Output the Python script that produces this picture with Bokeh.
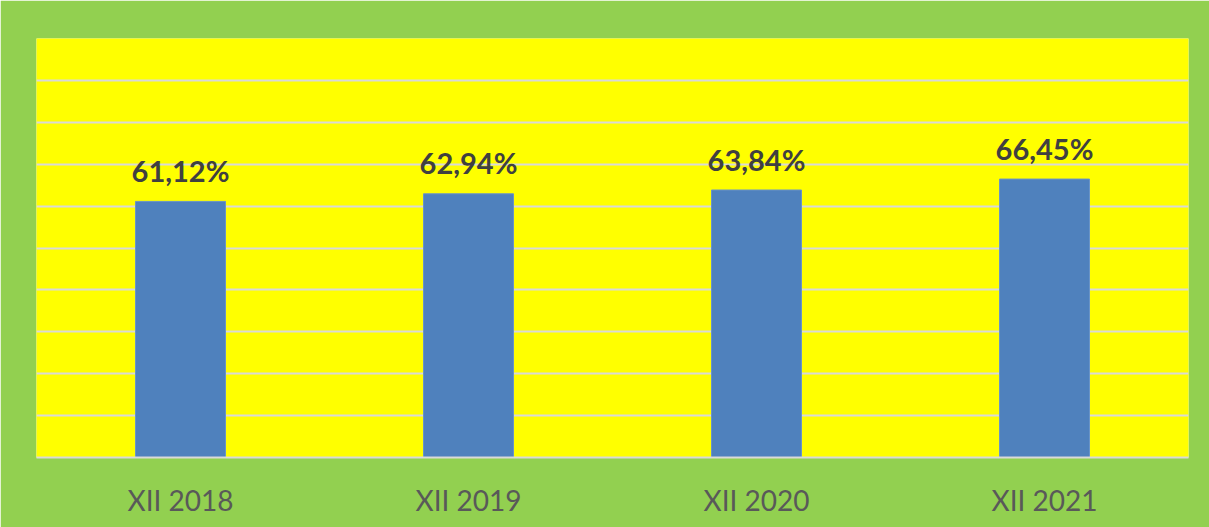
from bokeh.plotting import figure
from bokeh.models import ColumnDataSource, FixedTicker
from bokeh.core.properties import value
from bokeh.embed import file_html
from bokeh.resources import INLINE

categories = ["XII 2018", "XII 2019", "XII 2020", "XII 2021"]
values = [61.12, 62.94, 63.84, 66.45]
labels = [f"{v:.2f}".replace(".", ",") + "%" for v in values]

src = ColumnDataSource(data=dict(cat=categories, val=values, lab=labels))

p = figure(x_range=categories, y_range=(0, 100), width=1209, height=527,
           output_backend="svg", toolbar_location=None,
           min_border_left=36, min_border_right=21, min_border_top=38, min_border_bottom=70)
p.border_fill_color = "#92d050"
p.background_fill_color = "#ffff00"
p.outline_line_color = None

p.vbar(x="cat", top="val", width=0.3125, source=src, fill_color="#4f81bd", line_color="#6a94c6", line_width=1)
p.text(x="cat", y="val", text="lab", source=src, text_align="center", text_baseline="alphabetic",
       y_offset=-31, text_font=value("Lato"), text_font_style="bold", text_font_size="29px",
       text_color="#404040")

p.yaxis.visible = False
p.yaxis.ticker = FixedTicker(ticks=list(range(0, 101, 10)))
p.ygrid.ticker = FixedTicker(ticks=list(range(0, 101, 10)))
p.ygrid.grid_line_color = "#d9d9d9"
p.ygrid.grid_line_width = 2
p.xgrid.grid_line_color = None

p.xaxis.axis_line_color = "#d9d9d9"
p.xaxis.axis_line_width = 2
p.xaxis.major_tick_line_color = None
p.xaxis.minor_tick_line_color = None
p.xaxis.major_label_standoff = 19
p.xaxis.major_label_text_font = "Lato"
p.xaxis.major_label_text_font_size = "28px"
p.xaxis.major_label_text_color = "#595959"

open("out.html", "w").write(file_html(p, INLINE))
